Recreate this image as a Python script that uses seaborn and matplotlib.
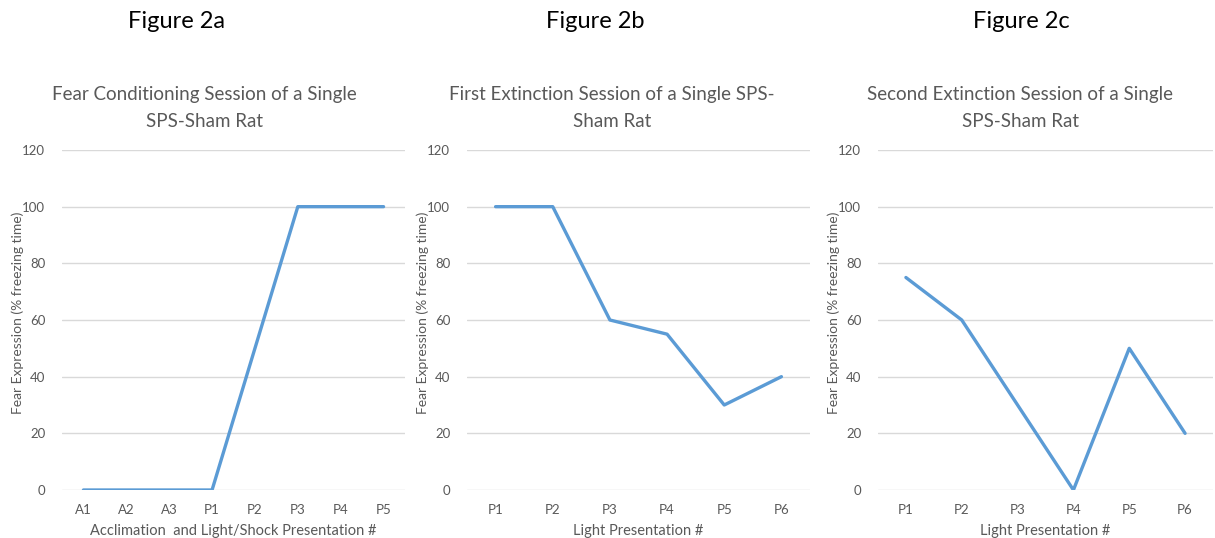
import seaborn as sns
import matplotlib.pyplot as plt
import pandas as pd

cats_a = ["A1", "A2", "A3", "P1", "P2", "P3", "P4", "P5"]
vals_a = [0, 0, 0, 0, 50, 100, 100, 100]
cats_b = ["P1", "P2", "P3", "P4", "P5", "P6"]
vals_b = [100, 100, 60, 55, 30, 40]
cats_c = ["P1", "P2", "P3", "P4", "P5", "P6"]
vals_c = [75, 60, 30, 0, 50, 20]

fig_labels = ["Figure 2a", "Figure 2b", "Figure 2c"]
titles = ["Fear Conditioning Session of a Single\nSPS-Sham Rat",
          "First Extinction Session of a Single SPS-\nSham Rat",
          "Second Extinction Session of a Single\nSPS-Sham Rat"]
xlabels = ["Acclimation  and Light/Shock Presentation #",
           "Light Presentation #", "Light Presentation #"]
ylabel = "Fear Expression (% freezing time)"
yticks = [0, 20, 40, 60, 80, 100, 120]

sns.set_style("white")
plt.rcParams['font.family'] = ['Lato', 'DejaVu Sans']

gray = "#595959"
blue = "#5B9BD5"
W, H = 1215, 538
fig = plt.figure(figsize=(W / 100, H / 100), dpi=100)

# axes boxes in pixels: left, right
boxes = [(62, 405), (467, 810), (878, 1213)]
top_px, bot_px = 150, 490
ylab_x = [18, 423, 834]
title_x = [204, 612, 1020]
figlab_x = [176, 595, 1021]

datasets = [(cats_a, vals_a), (cats_b, vals_b), (cats_c, vals_c)]

for i, (cats, vals) in enumerate(datasets):
    l, r = boxes[i]
    ax = fig.add_axes([l / W, 1 - bot_px / H, (r - l) / W, (bot_px - top_px) / H])
    df = pd.DataFrame({"cat": cats, "val": vals})
    sns.lineplot(data=df, x="cat", y="val", ax=ax, color=blue, linewidth=2.4,
                 sort=False)
    ax.set_xlim(-0.5, len(cats) - 0.5)
    ax.set_ylim(0, 120)
    ax.set_yticks(yticks)
    ax.grid(axis='y', color="#D9D9D9", linewidth=1)
    ax.set_axisbelow(True)
    for s in ax.spines.values():
        s.set_visible(False)
    ax.tick_params(axis='both', length=0, colors=gray, labelsize=9.5)
    ax.tick_params(axis='y', pad=12)
    ax.tick_params(axis='x', pad=10)
    ax.set_xlabel(xlabels[i], color=gray, fontsize=10.5, labelpad=6)
    ax.set_ylabel(ylabel, color=gray, fontsize=10, va='center')
    ax.yaxis.set_label_coords((ylab_x[i] - l) / (r - l), 0.52)

    fig.text(title_x[i] / W, 1 - 108 / H, titles[i], ha='center', va='center',
             color=gray, fontsize=13.5, linespacing=1.65)
    fig.text(figlab_x[i] / W, 1 - 22 / H, fig_labels[i], ha='center', va='center',
             color='black', fontsize=17)

plt.savefig("out.png", dpi=100)
